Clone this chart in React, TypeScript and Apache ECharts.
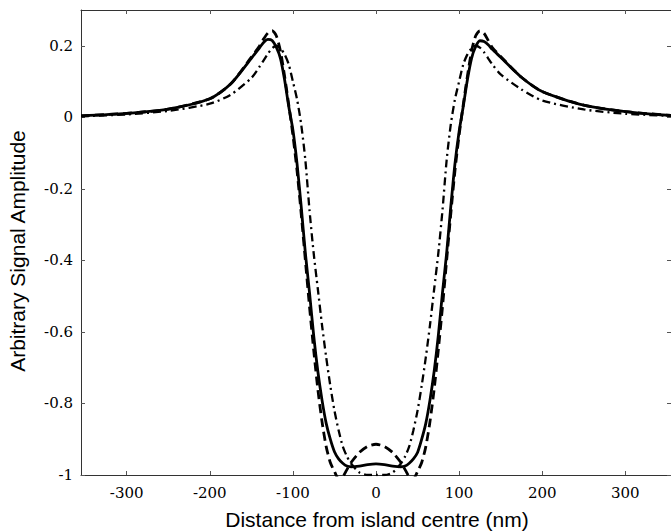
import React, { useEffect, useRef } from "react";
import * as echarts from "echarts";

const xs = [-355, -300, -250, -200, -175, -150, -140, -135, -130, -125, -120, -115, -110, -105, -100, -95, -90, -85, -80, -75, -70, -65, -60, -55, -50, -45, -40, -35, -30, -20, -10, 0, 10, 20, 30, 35, 40, 45, 50, 55, 60, 65, 70, 75, 80, 85, 90, 95, 100, 105, 110, 115, 120, 125, 130, 135, 140, 150, 175, 200, 250, 300, 355];

const solid = [0.004, 0.011, 0.023, 0.052, 0.093, 0.165, 0.195, 0.21, 0.218, 0.215, 0.196, 0.165, 0.105, 0.03, -0.035, -0.13, -0.25, -0.38, -0.49, -0.61, -0.71, -0.79, -0.855, -0.9, -0.935, -0.955, -0.967, -0.975, -0.977, -0.975, -0.971, -0.969,
  -0.971, -0.975, -0.977, -0.975, -0.967, -0.955, -0.937, -0.9, -0.855, -0.79, -0.71, -0.61, -0.49, -0.38, -0.25, -0.13, -0.04, 0.03, 0.105, 0.165, 0.198, 0.214, 0.212, 0.203, 0.19, 0.168, 0.112, 0.072, 0.034, 0.016, 0.005];

const dashed = [0.004, 0.011, 0.023, 0.052, 0.093, 0.168, 0.2, 0.22, 0.236, 0.242, 0.228, 0.185, 0.115, 0.035, -0.05, -0.15, -0.27, -0.4, -0.53, -0.65, -0.76, -0.85, -0.92, -0.965, -0.99, -1.01, -1.005, -0.985, -0.965, -0.937, -0.92, -0.914,
  -0.92, -0.937, -0.965, -0.985, -1.005, -1.01, -0.99, -0.965, -0.92, -0.85, -0.76, -0.65, -0.53, -0.4, -0.27, -0.15, -0.05, 0.035, 0.115, 0.185, 0.228, 0.242, 0.235, 0.215, 0.195, 0.17, 0.112, 0.072, 0.034, 0.016, 0.005];

const dashDot = [0.003, 0.008, 0.018, 0.038, 0.063, 0.11, 0.142, 0.16, 0.178, 0.193, 0.2, 0.193, 0.176, 0.148, 0.1, 0.05, -0.02, -0.12, -0.26, -0.38, -0.48, -0.58, -0.67, -0.75, -0.82, -0.875, -0.92, -0.948, -0.968, -0.993, -1.0, -1.0,
  -1.0, -0.993, -0.968, -0.948, -0.92, -0.875, -0.82, -0.75, -0.67, -0.58, -0.48, -0.38, -0.26, -0.12, -0.02, 0.05, 0.1, 0.148, 0.176, 0.193, 0.2, 0.195, 0.182, 0.165, 0.148, 0.12, 0.078, 0.047, 0.022, 0.01, 0.004];

const xTicks = [-300, -200, -100, 0, 100, 200, 300];
const yTicks = [-1, -0.8, -0.6, -0.4, -0.2, 0, 0.2];

const xTitle = "Distance from island centre (nm)";
const yTitle = "Arbitrary Signal Amplitude";

const SERIF = "DejaVu Serif";

export default function App() {
  const ref = useRef<HTMLDivElement>(null);
  useEffect(() => {
    if (!ref.current) return;
    const chart = echarts.init(ref.current, null, { renderer: "svg" });
    const axisLine = { show: true, onZero: false, lineStyle: { color: "#333", width: 1 } };
    const axisTick = (vals: number[]) => ({
      show: true,
      inside: true,
      length: 4,
      customValues: vals,
      lineStyle: { color: "#555", width: 1 },
    });
    const pts = (ys: number[]) => xs.map((x, i) => [x, ys[i]]);
    const fmt = (v: number) => String(Number(v.toFixed(1)));
    chart.setOption({
      animation: false,
      backgroundColor: "#fff",
      grid: { left: 81, right: -3, top: 10, bottom: 56, containLabel: false },
      xAxis: [
        {
          type: "value", min: -355, max: 355, position: "bottom",
          axisLine, splitLine: { show: false },
          axisTick: axisTick(xTicks),
          axisLabel: {
            show: true, fontFamily: SERIF, fontSize: 15, color: "#000",
            margin: 10, customValues: xTicks, formatter: fmt,
          },
        },
        {
          type: "value", min: -355, max: 355, position: "top",
          axisLine, splitLine: { show: false },
          axisTick: axisTick(xTicks),
          axisLabel: { show: false },
        },
      ],
      yAxis: [
        {
          type: "value", min: -1, max: 0.3, position: "left",
          axisLine, splitLine: { show: false },
          axisTick: axisTick(yTicks),
          axisLabel: {
            show: true, fontFamily: SERIF, fontSize: 15, color: "#000",
            margin: 8, customValues: yTicks, formatter: fmt,
          },
        },
        {
          type: "value", min: -1, max: 0.3, position: "right",
          axisLine, splitLine: { show: false },
          axisTick: axisTick(yTicks),
          axisLabel: { show: false },
        },
      ],
      graphic: [
        {
          type: "text", x: 377, y: 519,
          style: { text: xTitle, fontFamily: "Liberation Sans", fontSize: 21, fill: "#000", align: "center", verticalAlign: "middle" },
        },
        {
          type: "text", x: 17, y: 251, rotation: Math.PI / 2,
          style: { text: yTitle, fontFamily: "Liberation Sans", fontSize: 21, fill: "#000", align: "center", verticalAlign: "middle" },
        },
      ],
      series: [
        {
          type: "line", data: pts(solid), showSymbol: false, smooth: 0.25, clip: true,
          xAxisIndex: 0, yAxisIndex: 0,
          lineStyle: { color: "#000", width: 2.8, type: "solid" },
        },
        {
          type: "line", data: pts(dashed), showSymbol: false, smooth: 0.25, clip: true,
          xAxisIndex: 0, yAxisIndex: 0,
          lineStyle: { color: "#000", width: 2.8, type: [9, 5] },
        },
        {
          type: "line", data: pts(dashDot), showSymbol: false, smooth: 0.25, clip: true,
          xAxisIndex: 0, yAxisIndex: 0,
          lineStyle: { color: "#000", width: 2.3, type: [8, 4, 2, 4] },
        },
      ],
    });
    return () => chart.dispose();
  }, []);
  return <div ref={ref} style={{ position: "fixed", left: 0, top: 0, width: 671, height: 531 }} />;
}
